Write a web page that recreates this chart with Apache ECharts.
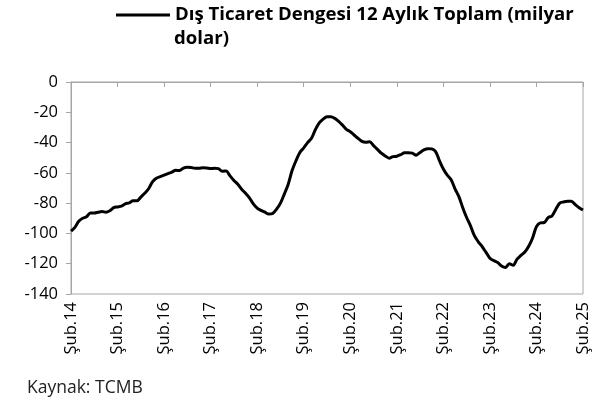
<!DOCTYPE html>
<html>
<head>
<meta charset="utf-8">
<script src="https://cdn.jsdelivr.net/npm/echarts@6/dist/echarts.min.js"></script>
<style>
  html, body { margin: 0; padding: 0; background: #fff; }
  #main { width: 608px; height: 401px; }
</style>
</head>
<body>
<div id="main"></div>
<script>
// aylar, Şub.14 - Şub.25
var monthNames = ['Oca', 'Şub', 'Mar', 'Nis', 'May', 'Haz', 'Tem', 'Ağu', 'Eyl', 'Eki', 'Kas', 'Ara'];
var categories = [];
for (var k = 0; k < 133; k++) {
    var m = (1 + k) % 12;
    var y = 14 + Math.floor((1 + k) / 12);
    categories.push(monthNames[m] + '.' + y);
}

var seriesName = 'Dış Ticaret Dengesi 12 Aylık Toplam (milyar\ndolar)';
var nameLines = seriesName.split('\n');

// 12 aylık toplam, milyar dolar
var tradeBalance = [
    -98.5, -96, -92, -90, -89, -86.5, -86.5, -86, -85.5, -86, -85, -83,
    -82.5, -82, -80.5, -79.8, -78.5, -78.5, -76, -73.5, -70.5, -66, -63.5, -62.5,
    -61.5, -60.5, -59.5, -58.3, -58.5, -56.8, -56.3, -56.5, -57, -57, -56.7, -56.8,
    -57.2, -57, -57.2, -59, -58.7, -62, -65, -67.5, -70.8, -73.5, -76.5, -80.5,
    -83.3, -84.8, -86, -87.2, -86.8, -84, -80, -74, -67.5, -58.5, -52, -46.5,
    -43.5, -40, -37.2, -31.5, -27, -24.5, -22.9, -22.9, -24, -26, -28.5, -31.3,
    -32.8, -35, -37.2, -39.2, -39.8, -39.5, -42, -44.5, -47, -48.8, -50.3, -49.3,
    -49, -48, -46.8, -46.8, -47, -48.3, -46.5, -44.8, -44, -44.2, -46, -52,
    -57.5, -61.5, -64.5, -70.5, -75.7, -83, -89.5, -95, -101.5, -105.5, -108.7, -112.5,
    -116.4, -118, -119.2, -121.5, -122.5, -120, -121, -117, -114.5, -112.3, -108.5, -103,
    -95.5, -93, -92.8, -89.5, -88.5, -84, -80, -79.2, -78.7, -78.7, -81, -83,
    -84.5
];

var yTicks = { min: -140, max: 0, step: 20 };

var fontFam = '"Open Sans", "Noto Sans", sans-serif';
var axisGray = '#a6a6a6';

var chart = echarts.init(document.getElementById('main'));

var option = {
    animation: false,
    backgroundColor: '#fff',
    textStyle: { fontFamily: fontFam },
    title: {
        text: 'Kaynak: TCMB',
        left: 22,
        top: 374,
        textStyle: { fontSize: 17.5, fontWeight: 'normal', color: '#222', fontFamily: fontFam }
    },
    legend: {
        data: [seriesName],
        left: 116,
        top: 2,
        padding: 0,
        icon: 'rect',
        itemWidth: 54,
        itemHeight: 3,
        itemGap: 4,
        formatter: function () { return nameLines[0]; },
        textStyle: {
            fontSize: 18.6,
            fontWeight: 'bold',
            color: '#000',
            lineHeight: 26,
            fontFamily: fontFam
        }
    },
    graphic: [
        {
            type: 'text',
            left: 174,
            top: 29,
            style: {
                text: nameLines[1],
                fontSize: 18.6,
                fontWeight: 'bold',
                fill: '#000',
                fontFamily: fontFam
            }
        }
    ],
    grid: {
        left: 71,
        right: 25,
        top: 82,
        bottom: 107,
        show: true,
        borderColor: axisGray,
        borderWidth: 1
    },
    xAxis: [
        {
            type: 'category',
            data: categories,
            boundaryGap: false,
            position: 'bottom',
            axisLine: { show: false, onZero: false },
            axisTick: { show: false },
            axisLabel: {
                interval: function (i) { return i % 12 === 0; },
                rotate: 90,
                margin: 8,
                fontSize: 16.5,
                color: '#000'
            }
        },
        {
            type: 'category',
            data: categories,
            boundaryGap: false,
            position: 'top',
            axisLine: { show: true, onZero: false, lineStyle: { color: axisGray, width: 1 } },
            axisTick: { show: true, inside: true, interval: 11, length: 5, lineStyle: { color: axisGray } },
            axisLabel: { show: false }
        }
    ],
    yAxis: {
        type: 'value',
        min: yTicks.min,
        max: yTicks.max,
        interval: yTicks.step,
        axisLine: { show: true, lineStyle: { color: axisGray, width: 1 } },
        axisTick: { show: true, length: 5, lineStyle: { color: axisGray } },
        splitLine: { show: false },
        axisLabel: { fontSize: 16.5, color: '#000', margin: 13 }
    },
    series: [
        {
            name: seriesName,
            type: 'line',
            data: tradeBalance,
            xAxisIndex: 0,
            showSymbol: false,
            smooth: 0.3,
            lineStyle: { color: '#000', width: 3 },
            itemStyle: { color: '#000' }
        }
    ]
};

chart.setOption(option);
</script>
</body>
</html>
